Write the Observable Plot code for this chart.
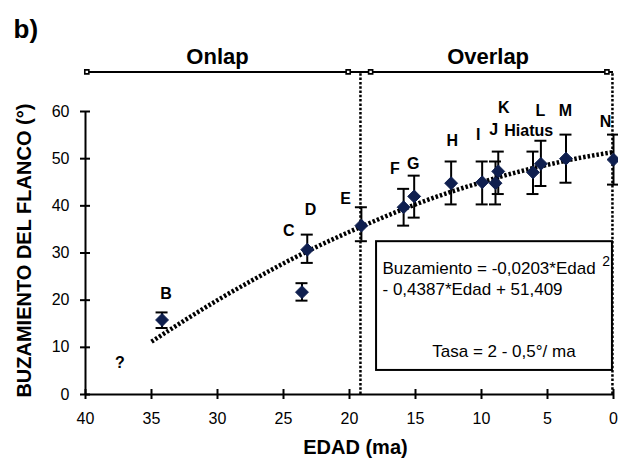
<!DOCTYPE html>
<html>
<head>
<meta charset="utf-8">
<script src="https://cdn.jsdelivr.net/npm/d3@7"></script>
<script src="https://cdn.jsdelivr.net/npm/@observablehq/plot@0.6"></script>
<style>
  html, body { margin: 0; padding: 0; background: #fff; overflow: hidden; }
  #chart svg { display: block; }
</style>
</head>
<body>
<div id="chart"></div>
<script>
// ---- data ----
const ages    = [34.2, 23.6, 23.2, 19.1, 15.9, 15.1, 12.3, 9.95, 8.94, 8.73, 6.1, 5.5, 3.6, 0.0];
const dips    = [15.8, 21.7, 30.7, 35.8, 39.7, 42.0, 44.8, 45.0, 44.8, 47.3, 47.1, 48.9, 50.0, 49.8];
const dipLow  = [14.1, 19.9, 27.9, 32.5, 35.8, 37.5, 40.3, 40.3, 40.3, 42.5, 42.5, 44.2, 44.9, 44.5];
const dipHigh = [17.4, 23.6, 33.9, 39.7, 43.6, 46.4, 49.4, 49.4, 49.4, 51.5, 51.5, 53.8, 55.1, 55.1];

// trend curve (dotted)
const trendAge = [35, 32.5, 30, 27.5, 25, 22.5, 20, 17.5, 15, 12.5, 10, 7.5, 5, 2.5, 0];
const trendDip = [11.2, 15.7, 20.0, 24.0, 27.8, 31.3, 34.5, 37.5, 40.3, 42.8, 45.0, 47.0, 48.7, 50.2, 51.4];

// point letters
const labelText = ["?", "B", "C", "D", "E", "F", "G", "H", "I", "J", "K", "Hiatus", "L", "M", "N"];
const labelAge  = [37.4, 33.9, 24.6, 22.95, 20.3, 16.57, 15.17, 12.22, 10.25, 9.07, 8.31, 6.42, 5.53, 3.64, 0.61];
const labelDip  = [6.7, 21.3, 34.6, 39.2, 41.5, 47.8, 48.9, 53.8, 55.1, 56.1, 60.8, 55.8, 60.1, 60.1, 57.9];

// phases (top bar)
const phaseNames  = ["Onlap", "Overlap"];
const phaseCenter = [30.0, 9.5];
const phaseMarks  = [39.9, 20.1, 18.4, 0.5];
const phaseLevel  = 68.4;
const boundaries  = [19.17, 0.08];

const xTicks = [40, 35, 30, 25, 20, 15, 10, 5, 0];
const yTicks = [0, 10, 20, 30, 40, 50, 60];

// equation box
const boxAge = [17.95, 0.08];
const boxDip = [5.1, 32.4];
const eqLines = ["Buzamiento = -0,0203*Edad", "- 0,4387*Edad + 51,409", "Tasa = 2 - 0,5°/ ma"];
const eqAge   = [17.5, 17.5, 13.73];
const eqDip   = [26.7, 22.2, 9.2];

// ---- build tables ----
const pts = ages.map((a, i) => ({age: a, dip: dips[i], lo: dipLow[i], hi: dipHigh[i]}));
const trend = trendAge.map((a, i) => ({age: a, dip: trendDip[i]}));
const labels = labelText.map((t, i) => ({text: t, age: labelAge[i], dip: labelDip[i]}));
const phases = phaseNames.map((t, i) => ({text: t, age: phaseCenter[i]}));
const eq = eqLines.map((t, i) => ({text: t, age: eqAge[i], dip: eqDip[i]}));

const navy = "#0f1f4f";
const font = "'Liberation Sans', Arial, Helvetica, sans-serif";

const chart = Plot.plot({
  width: 618,
  height: 459,
  marginLeft: 85,
  marginRight: 5,
  marginTop: 111,
  marginBottom: 65,
  x: {domain: [40, 0]},
  y: {domain: [0, 60]},
  style: {fontFamily: font, fontSize: "16px", background: "#fff", color: "#000", overflow: "visible"},
  marks: [
    // axes lines
    Plot.ruleY([0], {stroke: "#000", strokeWidth: 2}),
    Plot.ruleX([40], {stroke: "#000", strokeWidth: 2}),
    // crossing ticks
    Plot.ruleX(xTicks, {x: d => d, y1: 0, y2: 0, insetTop: -5, insetBottom: -5, stroke: "#000", strokeWidth: 2}),
    Plot.ruleY(yTicks, {y: d => d, x1: 40, x2: 40, insetLeft: -5, insetRight: -5, stroke: "#000", strokeWidth: 2}),
    Plot.axisX({ticks: xTicks, tickSize: 0, tickPadding: 18, fontSize: 16, label: null}),
    Plot.axisY({ticks: yTicks, tickSize: 0, tickPadding: 16, fontSize: 16, label: null}),

    // phase bar + boundaries
    Plot.ruleX(boundaries, {x: d => d, y1: 0, y2: phaseLevel, stroke: "#000", strokeWidth: 2.5, strokeDasharray: "2.5,1.8", strokeLinecap: "butt"}),
    Plot.ruleY([phaseLevel], {y: d => d, x1: 40, x2: 0, stroke: "#000", strokeWidth: 2}),
    Plot.dot(phaseMarks, {x: d => d, y: phaseLevel, symbol: "square", r: 2.3, fill: "#fff", stroke: "#000", strokeWidth: 1.6}),
    Plot.text(phases, {x: "age", y: 71.6, text: "text", fontSize: 22, fontWeight: "bold"}),

    // equation box
    Plot.rect([0], {x1: boxAge[0], x2: boxAge[1], y1: boxDip[0], y2: boxDip[1], fill: "#fff", stroke: "#000", strokeWidth: 2}),
    Plot.text(eq, {x: "age", y: "dip", text: "text", textAnchor: "start", fontSize: 17}),
    Plot.text(["2"], {x: 0.55, y: 28.3, text: d => d, fontSize: 14}),

    // trend curve
    Plot.line(trend, {x: "age", y: "dip", curve: "natural", stroke: "#000", strokeWidth: 4.5, strokeDasharray: "2.5,2", strokeLinecap: "butt"}),

    // error bars
    Plot.ruleX(pts, {x: "age", y1: "lo", y2: "hi", stroke: "#000", strokeWidth: 2}),
    Plot.ruleY(pts, {y: "hi", x1: "age", x2: "age", insetLeft: -6, insetRight: -6, stroke: "#000", strokeWidth: 2}),
    Plot.ruleY(pts, {y: "lo", x1: "age", x2: "age", insetLeft: -6, insetRight: -6, stroke: "#000", strokeWidth: 2}),

    // points
    Plot.dot(pts, {x: "age", y: "dip", symbol: "diamond2", r: 5.8, fill: navy, stroke: navy, strokeWidth: 1}),

    // point labels
    Plot.text(labels, {x: "age", y: "dip", text: "text", fontSize: 16, fontWeight: "bold"}),

    // titles
    Plot.text(["b)"], {x: 45.45, y: 77.4, text: d => d, textAnchor: "start", fontSize: 26, fontWeight: "bold"}),
    Plot.text(["BUZAMIENTO DEL FLANCO (°)"], {x: 44.6, y: 30.5, text: d => d, rotate: -90, fontSize: 20, fontWeight: "bold"}),
    Plot.text(["EDAD (ma)"], {x: 19.55, y: -11.2, text: d => d, fontSize: 20, fontWeight: "bold"})
  ]
});

document.getElementById("chart").appendChild(chart);
</script>
</body>
</html>
